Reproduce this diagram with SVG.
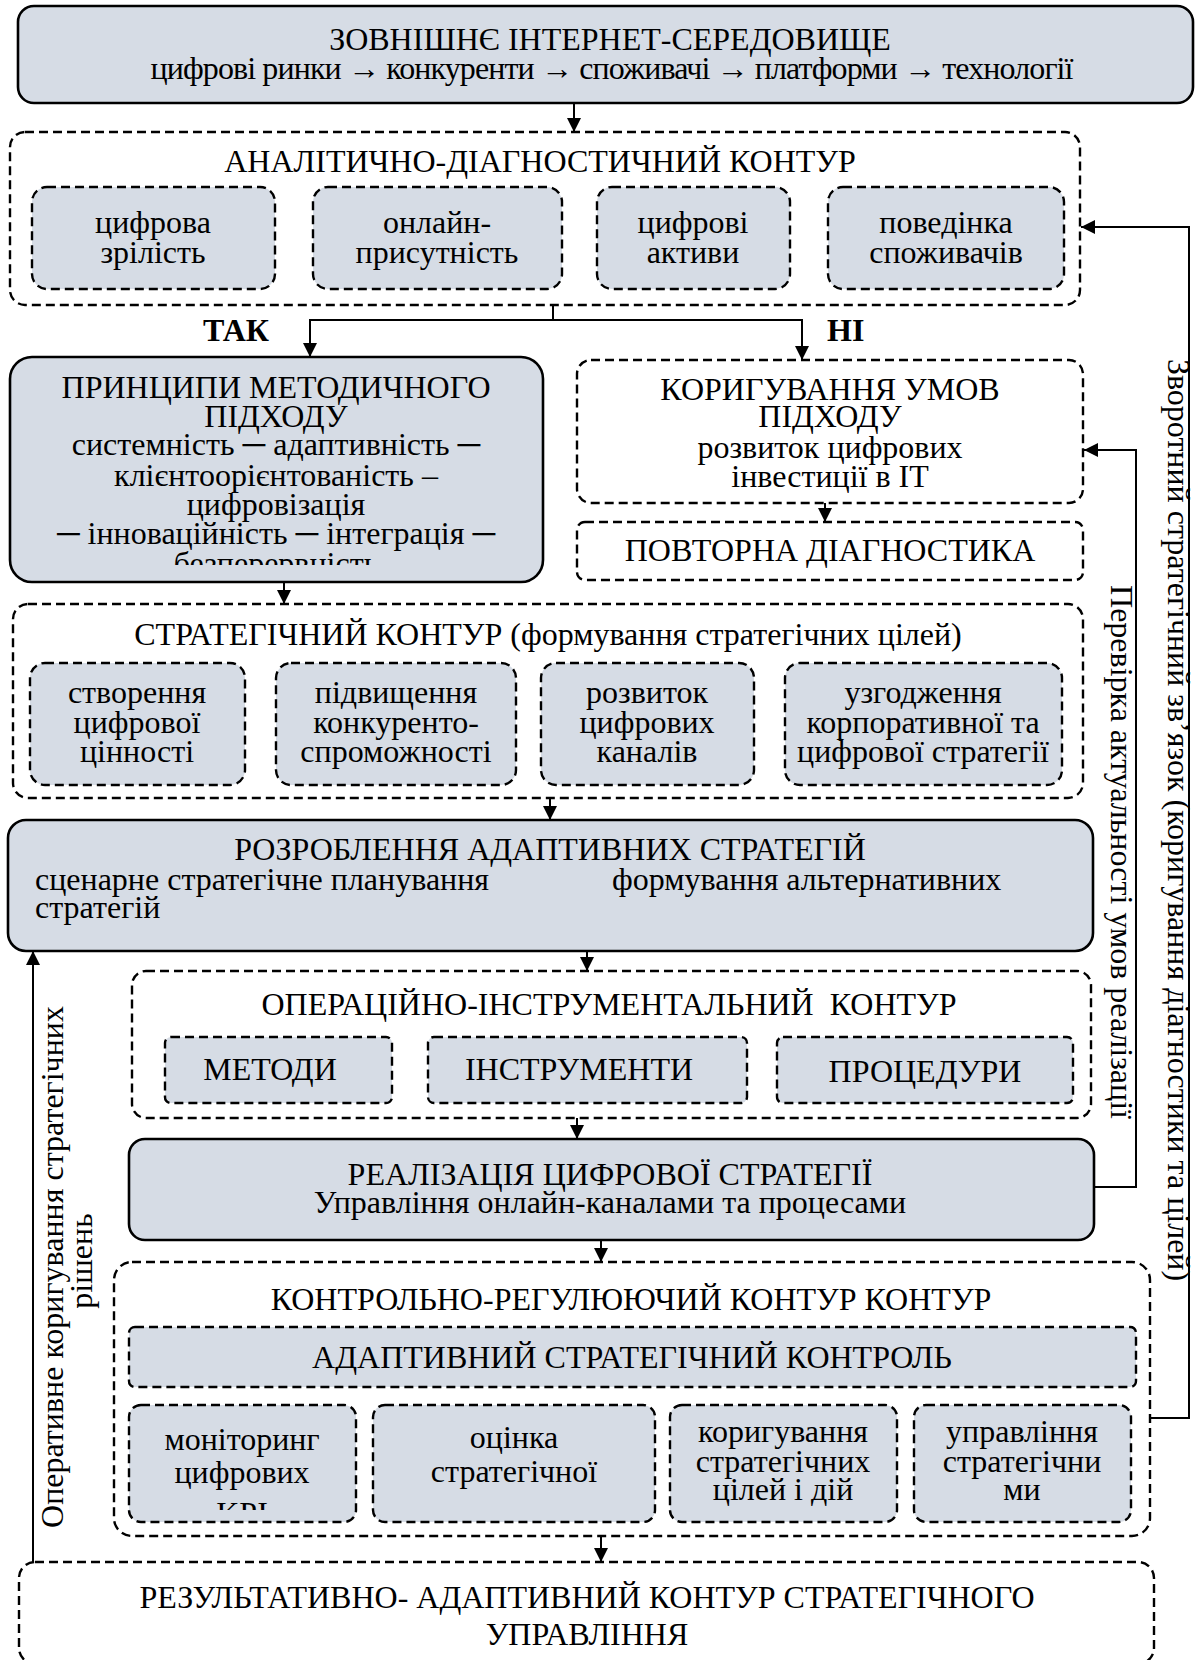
<svg xmlns="http://www.w3.org/2000/svg" width="1197" height="1660" viewBox="0 0 1197 1660">
<style>
.solid{fill:#d6dce5;stroke:#000;stroke-width:2.6}
.dash{fill:#fff;stroke:#000;stroke-width:2.4;stroke-dasharray:9 5}
.dashf{fill:#d6dce5;stroke:#000;stroke-width:2.4;stroke-dasharray:9 5}
.t{font-family:"Liberation Serif","Times New Roman",serif;font-size:32px;fill:#000;text-anchor:middle}
.s{text-anchor:start}
.b{font-weight:bold}
.conn path{fill:none;stroke:#000;stroke-width:2}
</style>
<defs>
<marker id="ah" markerUnits="userSpaceOnUse" markerWidth="14" markerHeight="14" viewBox="0 0 14 14" refX="14" refY="7" orient="auto">
<path d="M0,0 L14,7 L0,14 z" fill="#000"/>
</marker>
<clipPath id="cPr"><rect x="10" y="357" width="533" height="208"/></clipPath>
<clipPath id="cKpi"><rect x="129" y="1405" width="227" height="105"/></clipPath>
<clipPath id="cS3"><rect x="541" y="663" width="521" height="106"/></clipPath>
</defs>

<g id="n-top">
<rect class="solid" x="18" y="6" width="1175" height="97" rx="16"/>
<text class="t" x="610" y="50">ЗОВНІШНЄ ІНТЕРНЕТ-СЕРЕДОВИЩЕ</text>
<text class="t" x="612" y="79" textLength="923" lengthAdjust="spacing">цифрові ринки → конкуренти → споживачі → платформи → технології</text>
</g>

<g id="n-analyt">
<rect class="dash" x="10" y="132" width="1070" height="173" rx="15"/>
<text class="t" x="540" y="172">АНАЛІТИЧНО-ДІАГНОСТИЧНИЙ КОНТУР</text>
<g id="n-a1"><rect class="dashf" x="32" y="187" width="243" height="102" rx="15"/><text class="t" x="153" y="233">цифрова</text><text class="t" x="153" y="263">зрілість</text></g>
<g id="n-a2"><rect class="dashf" x="313" y="187" width="249" height="102" rx="15"/><text class="t" x="437" y="233">онлайн-</text><text class="t" x="437" y="263">присутність</text></g>
<g id="n-a3"><rect class="dashf" x="597" y="187" width="193" height="102" rx="15"/><text class="t" x="693" y="233">цифрові</text><text class="t" x="693" y="263">активи</text></g>
<g id="n-a4"><rect class="dashf" x="828" y="187" width="236" height="102" rx="15"/><text class="t" x="946" y="233">поведінка</text><text class="t" x="946" y="263">споживачів</text></g>
</g>

<g id="n-princ">
<rect class="solid" x="10" y="357" width="533" height="225" rx="22"/>
<g clip-path="url(#cPr)">
<text class="t" x="276" y="398">ПРИНЦИПИ МЕТОДИЧНОГО</text>
<text class="t" x="276" y="427">ПІДХОДУ</text>
<text class="t" x="276" y="455">системність ─ адаптивність ─</text>
<text class="t" x="276" y="486">клієнтоорієнтованість –</text>
<text class="t" x="276" y="515">цифровізація</text>
<text class="t" x="276" y="544">─ інноваційність ─ інтеграція ─</text>
<text class="t" x="276" y="574">безперервність</text>
</g>
</g>

<g id="n-korig">
<rect class="dash" x="577" y="360" width="506" height="143" rx="14"/>
<text class="t" x="830" y="400">КОРИГУВАННЯ УМОВ</text>
<text class="t" x="830" y="427">ПІДХОДУ</text>
<text class="t" x="830" y="458">розвиток цифрових</text>
<text class="t" x="830" y="487">інвестиції в ІТ</text>
</g>

<g id="n-povt">
<rect class="dash" x="577" y="522" width="506" height="58" rx="8"/>
<text class="t" x="830" y="561">ПОВТОРНА ДІАГНОСТИКА</text>
</g>

<g id="n-strat">
<rect class="dash" x="13" y="604" width="1070" height="194" rx="15"/>
<text class="t" x="548" y="645">СТРАТЕГІЧНИЙ КОНТУР (формування стратегічних цілей)</text>
<g id="n-s1"><rect class="dashf" x="30" y="663" width="215" height="122" rx="15"/><text class="t" x="137" y="703">створення</text><text class="t" x="137" y="733">цифрової</text><text class="t" x="137" y="762">цінності</text></g>
<g id="n-s2"><rect class="dashf" x="276" y="663" width="240" height="122" rx="15"/><text class="t" x="396" y="703">підвищення</text><text class="t" x="396" y="733">конкуренто-</text><text class="t" x="396" y="762">спроможності</text></g>
<g id="n-s3"><rect class="dashf" x="541" y="663" width="213" height="122" rx="15"/><g clip-path="url(#cS3)"><text class="t" x="647" y="703">розвиток</text><text class="t" x="647" y="733">цифрових</text><text class="t" x="647" y="762">каналів</text></g></g>
<g id="n-s4"><rect class="dashf" x="785" y="663" width="277" height="122" rx="15"/><g clip-path="url(#cS3)"><text class="t" x="923" y="703">узгодження</text><text class="t" x="923" y="733">корпоративної та</text><text class="t" x="923" y="762">цифрової стратегії</text></g></g>
</g>

<g id="n-rozr">
<rect class="solid" x="8" y="820" width="1085" height="131" rx="18"/>
<text class="t" x="550" y="860">РОЗРОБЛЕННЯ АДАПТИВНИХ СТРАТЕГІЙ</text>
<text class="t s" x="35" y="890">сценарне стратегічне планування</text>
<text class="t s" x="612" y="890">формування альтернативних</text>
<text class="t s" x="35" y="918">стратегій</text>
</g>

<g id="n-oper">
<rect class="dash" x="132" y="971" width="959" height="147" rx="14"/>
<text class="t" x="609" y="1015">ОПЕРАЦІЙНО-ІНСТРУМЕНТАЛЬНИЙ&#160; КОНТУР</text>
<g id="n-o1"><rect class="dashf" x="165" y="1037" width="227" height="66" rx="6"/><text class="t" x="270" y="1080">МЕТОДИ</text></g>
<g id="n-o2"><rect class="dashf" x="428" y="1037" width="319" height="66" rx="6"/><text class="t" x="579" y="1080">ІНСТРУМЕНТИ</text></g>
<g id="n-o3"><rect class="dashf" x="777" y="1037" width="296" height="66" rx="6"/><text class="t" x="925" y="1082">ПРОЦЕДУРИ</text></g>
</g>

<g id="n-real">
<rect class="solid" x="129" y="1139" width="965" height="101" rx="16"/>
<text class="t" x="610" y="1185">РЕАЛІЗАЦІЯ ЦИФРОВОЇ СТРАТЕГІЇ</text>
<text class="t" x="610" y="1213">Управління онлайн-каналами та процесами</text>
</g>

<g id="n-kontr">
<rect class="dash" x="114" y="1262" width="1036" height="274" rx="18"/>
<text class="t" x="631" y="1310">КОНТРОЛЬНО-РЕГУЛЮЮЧИЙ КОНТУР КОНТУР</text>
<g id="n-k0"><rect class="dashf" x="129" y="1327" width="1007" height="60" rx="6"/><text class="t" x="632" y="1368">АДАПТИВНИЙ СТРАТЕГІЧНИЙ КОНТРОЛЬ</text></g>
<g id="n-k1"><rect class="dashf" x="129" y="1405" width="227" height="117" rx="12"/><text class="t" x="242" y="1450">моніторинг</text><text class="t" x="242" y="1483">цифрових</text><text class="t" x="242" y="1524" clip-path="url(#cKpi)">KPI</text></g>
<g id="n-k2"><rect class="dashf" x="373" y="1405" width="282" height="117" rx="12"/><text class="t" x="514" y="1448">оцінка</text><text class="t" x="514" y="1482">стратегічної</text></g>
<g id="n-k3"><rect class="dashf" x="670" y="1405" width="227" height="117" rx="12"/><text class="t" x="783" y="1442">коригування</text><text class="t" x="783" y="1472">стратегічних</text><text class="t" x="783" y="1500">цілей і дій</text></g>
<g id="n-k4"><rect class="dashf" x="914" y="1405" width="217" height="117" rx="12"/><text class="t" x="1022" y="1442">управління</text><text class="t" x="1022" y="1472">стратегічни</text><text class="t" x="1022" y="1500">ми</text></g>
</g>

<g id="n-rez">
<rect class="dash" x="19" y="1562" width="1135" height="102" rx="16"/>
<text class="t" x="587" y="1608">РЕЗУЛЬТАТИВНО- АДАПТИВНИЙ КОНТУР СТРАТЕГІЧНОГО</text>
<text class="t" x="587" y="1645">УПРАВЛІННЯ</text>
</g>

<g id="connectors" class="conn">
<path d="M574,103 V132" marker-end="url(#ah)"/>
<path d="M553,305 V320"/>
<path d="M553,320 H310 V357" marker-end="url(#ah)"/>
<path d="M553,320 H802 V360" marker-end="url(#ah)"/>
<path d="M825,503 V522" marker-end="url(#ah)"/>
<path d="M284,582 V604" marker-end="url(#ah)"/>
<path d="M550,798 V820" marker-end="url(#ah)"/>
<path d="M587,951 V971" marker-end="url(#ah)"/>
<path d="M577,1118 V1139" marker-end="url(#ah)"/>
<path d="M601,1240 V1262" marker-end="url(#ah)"/>
<path d="M601,1536 V1562" marker-end="url(#ah)"/>
<path d="M33,1562 V951" marker-end="url(#ah)"/>
<path d="M1094,1187 H1136 V450 H1084" marker-end="url(#ah)"/>
<path d="M1150,1418 H1189 V227 H1081" marker-end="url(#ah)"/>
</g>

<g id="labels">
<text class="t s b" x="203" y="341">ТАК</text>
<text class="t s b" x="827" y="341">НІ</text>
<text class="t" transform="translate(1168,820) rotate(90)">Зворотний стратегічний зв’язок (коригування діагностики та цілей)</text>
<text class="t" transform="translate(1111,852) rotate(90)">Перевірка актуальності умов реалізації</text>
<text class="t" transform="translate(63,1267) rotate(-90)">Оперативне коригування стратегічних</text>
<text class="t" transform="translate(92,1261) rotate(-90)">рішень</text>
</g>
</svg>
